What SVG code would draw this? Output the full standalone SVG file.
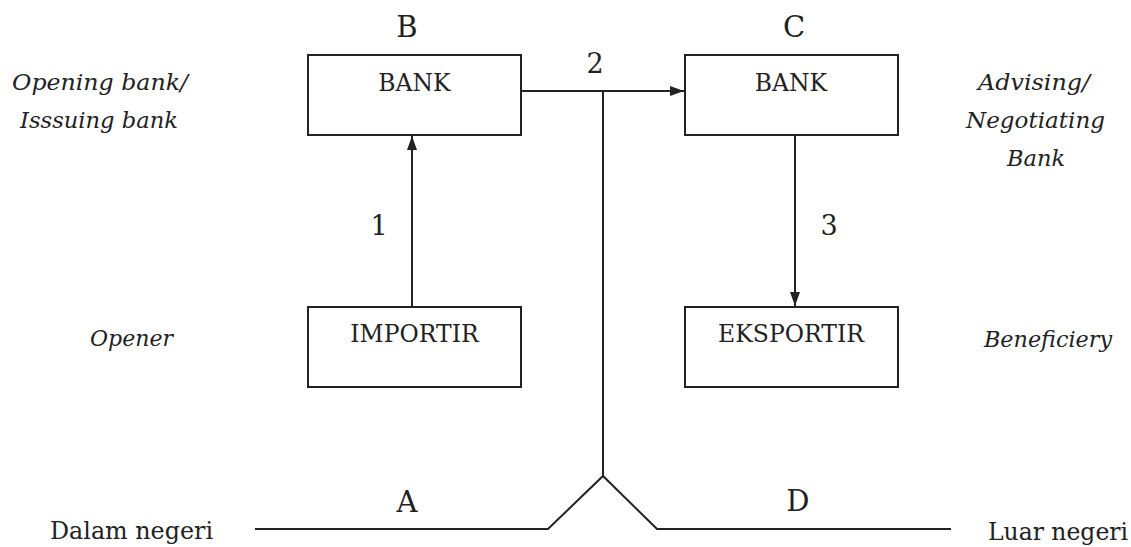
<svg xmlns="http://www.w3.org/2000/svg" width="1131" height="547" viewBox="0 0 1131 547">
<style>
  .box { fill: #ffffff; stroke: #222222; stroke-width: 2; }
  .line { fill: none; stroke: #222222; stroke-width: 2; }
  .lbl { font-family: "DejaVu Serif", "Liberation Serif", serif; fill: #222222; text-anchor: middle; }
  .boxtxt { font-size: 23.5px; }
  .big { font-size: 29px; }
  .num { font-size: 27px; }
  .it { font-style: italic; font-size: 22.5px; }
  .side { font-size: 23.5px; }
</style>
<defs>
  <marker id="arrow" viewBox="0 0 14 10" refX="14" refY="5" markerWidth="14" markerHeight="10" markerUnits="userSpaceOnUse" orient="auto">
    <path d="M0,0 L14,5 L0,10 Z" fill="#222222"/>
  </marker>
</defs>
<rect width="1131" height="547" fill="#ffffff"/>

<g id="connectors">
  <line class="line" x1="412" y1="307" x2="412" y2="136" marker-end="url(#arrow)"/>
  <line class="line" x1="521" y1="91" x2="684" y2="91" marker-end="url(#arrow)"/>
  <line class="line" x1="795" y1="135" x2="795" y2="306" marker-end="url(#arrow)"/>
  <line class="line" x1="603" y1="91" x2="603" y2="476"/>
  <polyline class="line" points="255,529 548,529 603,476 657,529 951,529"/>
</g>

<g id="node-bank-b">
  <rect class="box" x="308" y="55" width="213" height="80"/>
  <text class="lbl boxtxt" x="414.5" y="91">BANK</text>
</g>
<g id="node-bank-c">
  <rect class="box" x="685" y="55" width="213" height="80"/>
  <text class="lbl boxtxt" x="791" y="91">BANK</text>
</g>
<g id="node-importir">
  <rect class="box" x="308" y="307" width="213" height="80"/>
  <text class="lbl boxtxt" x="414.5" y="342">IMPORTIR</text>
</g>
<g id="node-eksportir">
  <rect class="box" x="685" y="307" width="213" height="80"/>
  <text class="lbl boxtxt" x="791" y="342">EKSPORTIR</text>
</g>

<g id="labels">
  <text class="lbl big" x="407" y="37">B</text>
  <text class="lbl big" x="794" y="37">C</text>
  <text class="lbl big" x="407" y="512">A</text>
  <text class="lbl big" x="798" y="511">D</text>
  <text class="lbl num" x="595" y="73">2</text>
  <text class="lbl num" x="379" y="235">1</text>
  <text class="lbl num" x="829" y="235">3</text>

  <text class="lbl it" x="100" y="90" textLength="176" lengthAdjust="spacingAndGlyphs">Opening bank/</text>
  <text class="lbl it" x="99" y="128" textLength="158" lengthAdjust="spacingAndGlyphs">Isssuing bank</text>
  <text class="lbl it" x="131.5" y="346" textLength="83" lengthAdjust="spacingAndGlyphs">Opener</text>

  <text class="lbl it" x="1034" y="90" textLength="112" lengthAdjust="spacingAndGlyphs">Advising/</text>
  <text class="lbl it" x="1035.5" y="128" textLength="139" lengthAdjust="spacingAndGlyphs">Negotiating</text>
  <text class="lbl it" x="1036" y="166" textLength="58" lengthAdjust="spacingAndGlyphs">Bank</text>
  <text class="lbl it" x="1048" y="347" textLength="128" lengthAdjust="spacingAndGlyphs">Beneficiery</text>

  <text class="lbl side" x="131.5" y="539" textLength="163" lengthAdjust="spacingAndGlyphs">Dalam negeri</text>
  <text class="lbl side" x="1058" y="540" textLength="140" lengthAdjust="spacingAndGlyphs">Luar negeri</text>
</g>
</svg>
